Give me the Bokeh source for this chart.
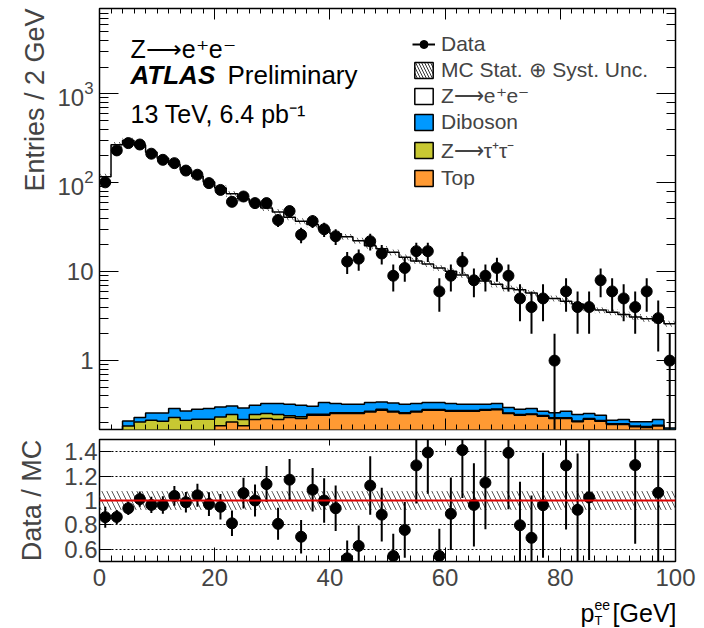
import numpy as np
from bokeh.plotting import figure
from bokeh.layouts import column
from bokeh.models import (ColumnDataSource, Range1d, LinearAxis, LogAxis, LogTicker,
                          FixedTicker, LogTickFormatter, CustomJSTickFormatter, Span,
                          Label, Legend, LegendItem, Title)
from bokeh.embed import file_html
from bokeh.resources import INLINE

# ---------------- data ----------------
bin_width = 2.0
x_min, x_max = 0.0, 100.0

data_counts = [101, 231, 279, 269, 212, 181, 166, 137, 123, 99,
               83, 61, 70, 59, 59, 38, 48, 26, 37, 30,
               25, 13, 14, 22, 16, 9, 11, 17, 17, 6,
               9, 13, 8, 9, 11, 9, 5, 4, 5, 1,
               6, 4, 4, 8, 6, 5, 4, 6, 3, 1]

mc_total = [117, 267, 298, 266, 220, 188, 160, 139, 118, 102,
            87.5, 75, 66, 59, 52, 47, 41, 37, 34, 30,
            26.7, 24.7, 22.3, 19.6, 18.1, 16.5, 14.5, 13.2, 12.2, 11.0,
            10.1, 9.2, 8.3, 7.85, 7.2, 6.47, 6.27, 5.76, 5.2, 5.0,
            4.66, 4.33, 3.9, 3.7, 3.5, 3.3, 3.1, 2.95, 2.82, 2.6]

bkg_top = [0, 0, 0, 0, 0, 0, 0, 0, 0, 0,
           .185, .204, .185, .217, .223, .217, .229, .223, .243, .243,
           .254, .254, .254, .265, .277, .265, .254, .265, .277, .277,
           .269, .269, .269, .277, .281, .254, .243, .247, .237, .223,
           .223, .205, .219, .208, .191, .191, .180, .177, .184, .165]

bkg_ztautau = [0, 0, .184, .204, .213, .208, .229, .213, .219, .219,
               .047, .043, .032, .030, .031, .030, .011, .010, .007, .007,
               .006, .006, .006, .005, .006, .005, .005, .005, .005, .005,
               .005, .005, .005, .005, .005, .004, .004, .004, .004, .004,
               .004, .004, .004, .004, .004, .004, .004, .004, .004, .003]

bkg_diboson = [0, 0, .026, .025, .045, .050, .060, .059, .065, .070,
               .069, .062, .076, .068, .075, .082, .083, .082, .056, .087,
               .069, .063, .063, .067, .060, .063, .064, .059, .055, .055,
               .055, .049, .049, .041, .043, .038, .037, .038, .028, .033,
               .042, .038, .031, .031, .018, .022, .021, .024, .029, .007]

mc_rel_unc = 0.077

x_major_ticks = [0, 20, 40, 60, 80, 100]
ratio_ticks = [0.6, 0.8, 1.0, 1.2, 1.4]
ratio_tick_labels = {0.6: "0.6", 0.8: "0.8", 1.0: "1", 1.2: "1.2", 1.4: "1.4"}

# ---------------- styles ----------------
FONT = "Liberation Sans"
ORANGE = "#ff9a33"
YELLOW = "#c8c832"
BLUE = "#0099ff"
FLOOR = 1e-3
W = 704
ARROW = "\u27f6"

edges = np.arange(x_min, x_max + bin_width / 2, bin_width)
lo, hi = edges[:-1], edges[1:]
centers = 0.5 * (lo + hi)
x_minor = list(edges)

d = np.array(data_counts, float)
mc = np.array(mc_total, float)
top = np.array(bkg_top)
ztt = np.array(bkg_ztautau)
dib = np.array(bkg_diboson)
cum_top = np.maximum(top, FLOOR)
cum_ztt = np.maximum(top + ztt, FLOOR)
cum_dib = np.maximum(top + ztt + dib, FLOOR)


def ext(a):
    return np.append(a, a[-1])


empty_fmt = CustomJSTickFormatter(code="return ''")
xr = Range1d(x_min, x_max)

# ---------------- main panel ----------------
p = figure(width=W, height=434, x_range=xr, y_range=Range1d(0.168, 9100),
           y_axis_type="log", output_backend="svg", toolbar_location=None,
           min_border_left=99, min_border_right=29, min_border_top=8,
           min_border_bottom=5)
p.outline_line_color = "black"
p.outline_line_width = 1.5
p.grid.visible = False

bx = p.below[0]
bx.ticker = FixedTicker(ticks=x_major_ticks, minor_ticks=x_minor)
bx.formatter = empty_fmt
bx.major_label_standoff = 0
bx.major_tick_in, bx.major_tick_out = 11, 0
bx.minor_tick_in, bx.minor_tick_out = 5, 0
bx.axis_line_color = None

ly = p.left[0]
ly.formatter = LogTickFormatter(min_exponent=2)
ly.major_tick_in, ly.major_tick_out = 19, 0
ly.minor_tick_in, ly.minor_tick_out = 9, 0
ly.axis_line_color = None
ly.major_label_text_font = FONT
ly.major_label_text_font_size = "24px"
ly.major_label_standoff = 6

ry = LogAxis(ticker=LogTicker(), formatter=empty_fmt, major_label_standoff=0,
             major_tick_in=19, major_tick_out=0, minor_tick_in=9, minor_tick_out=0,
             axis_line_color=None)
p.add_layout(ry, "right")
tx = LinearAxis(ticker=FixedTicker(ticks=x_major_ticks, minor_ticks=x_minor),
                formatter=empty_fmt, major_label_standoff=0,
                major_tick_in=11, major_tick_out=0, minor_tick_in=5, minor_tick_out=0,
                axis_line_color=None)
p.add_layout(tx, "above")

p.add_layout(Title(text="Entries / 2 GeV", align="right", text_font=FONT,
                   text_font_size="27px", text_font_style="normal"), "left")

# stacked backgrounds
p.varea_step(x=edges, y1=ext(np.full(50, FLOOR)), y2=ext(cum_top), step_mode="after",
             fill_color=ORANGE)
p.varea_step(x=edges, y1=ext(cum_top), y2=ext(cum_ztt), step_mode="after",
             fill_color=YELLOW)
p.varea_step(x=edges, y1=ext(cum_ztt), y2=ext(cum_dib), step_mode="after",
             fill_color=BLUE)

# MC uncertainty band
p.quad(left=lo, right=hi, bottom=mc * (1 - mc_rel_unc), top=mc * (1 + mc_rel_unc),
       fill_color=None, line_color=None, hatch_pattern="\\", hatch_color="#666666",
       hatch_scale=10, hatch_weight=1)

for arr in [cum_top, cum_ztt, cum_dib, mc]:
    p.step(x=edges, y=ext(arr), mode="after", line_color="black", line_width=1.5)

dsrc = ColumnDataSource(dict(x=centers, y=d,
                             lo=np.maximum(d - np.sqrt(d), FLOOR),
                             hi=d + np.sqrt(d)))
seg_r = p.segment(x0="x", y0="lo", x1="x", y1="hi", line_color="black",
                  line_width=2, source=dsrc)
pt_r = p.scatter("x", "y", size=11, color="black", source=dsrc)

# legend-only renderers
nan = [np.nan]
leg_band = p.quad(left=nan, right=nan, bottom=nan, top=nan, fill_color="white",
                  line_color="black", line_width=1.5, hatch_pattern="\\",
                  hatch_color="#333333", hatch_scale=6, hatch_weight=1)
leg_zee = p.quad(left=nan, right=nan, bottom=nan, top=nan, fill_color="white",
                 line_color="black", line_width=1.5)
leg_dib = p.quad(left=nan, right=nan, bottom=nan, top=nan, fill_color=BLUE,
                 line_color="black", line_width=1.5)
leg_ztt = p.quad(left=nan, right=nan, bottom=nan, top=nan, fill_color=YELLOW,
                 line_color="black", line_width=1.5)
leg_top = p.quad(left=nan, right=nan, bottom=nan, top=nan, fill_color=ORANGE,
                 line_color="black", line_width=1.5)

legend = Legend(items=[
    LegendItem(label="Data", renderers=[seg_r, pt_r]),
    LegendItem(label="MC Stat. \u2295 Syst. Unc.", renderers=[leg_band]),
    LegendItem(label="Z" + ARROW + "e\u207ae\u207b", renderers=[leg_zee]),
    LegendItem(label="Diboson", renderers=[leg_dib]),
    LegendItem(label="Z" + ARROW + "\u03c4\u207a\u03c4\u207b", renderers=[leg_ztt]),
    LegendItem(label="Top", renderers=[leg_top]),
], location=(313, 239), glyph_width=23, glyph_height=20, label_standoff=6,
    padding=0, margin=0, spacing=2, border_line_alpha=0, background_fill_alpha=0,
    label_text_font=FONT, label_text_font_size="21px")
p.add_layout(legend)

txt = dict(x_units="screen", y_units="screen", text_font=FONT, text_color="black",
           text_baseline="alphabetic")
p.add_layout(Label(x=31, y=381, text="Z" + ARROW + "e\u207ae\u207b", text_font_size="25px", **txt))
p.add_layout(Label(x=31, y=355, text="ATLAS", text_font_size="26px",
                   text_font_style="bold italic", **txt))
p.add_layout(Label(x=128, y=355, text="Preliminary", text_font_size="26px", **txt))
p.add_layout(Label(x=31, y=316, text="13 TeV, 6.4 pb\u207b\u00b9", text_font_size="25px", **txt))

# ---------------- ratio panel ----------------
r = figure(width=W, height=158, x_range=xr, y_range=Range1d(0.5, 1.5),
           output_backend="svg", toolbar_location=None,
           min_border_left=99, min_border_right=29, min_border_top=5,
           min_border_bottom=31)
r.outline_line_color = "black"
r.outline_line_width = 1.5
r.xgrid.visible = False
r.ygrid.ticker = FixedTicker(ticks=ratio_ticks)
r.ygrid.grid_line_color = "black"
r.ygrid.grid_line_dash = "2 2"
r.ygrid.grid_line_width = 1

rb = r.below[0]
rb.ticker = FixedTicker(ticks=x_major_ticks, minor_ticks=x_minor)
rb.major_tick_in, rb.major_tick_out = 14, 0
rb.minor_tick_in, rb.minor_tick_out = 6, 0
rb.axis_line_color = None
rb.major_label_text_font = FONT
rb.major_label_text_font_size = "24px"
rb.major_label_standoff = 7

rl = r.left[0]
rl.ticker = FixedTicker(ticks=ratio_ticks)
rl.major_label_overrides = ratio_tick_labels
rl.major_tick_in, rl.major_tick_out = 12, 0
rl.minor_tick_in, rl.minor_tick_out = 0, 0
rl.axis_line_color = None
rl.major_label_text_font = FONT
rl.major_label_text_font_size = "24px"
rl.major_label_standoff = 2
rl.axis_label = "Data / MC"
rl.axis_label_text_font = FONT
rl.axis_label_text_font_size = "27px"
rl.axis_label_text_font_style = "normal"
rl.axis_label_standoff = 14

r.add_layout(LinearAxis(ticker=FixedTicker(ticks=ratio_ticks), formatter=empty_fmt,
                        major_label_standoff=0, major_tick_in=12, major_tick_out=0,
                        minor_tick_in=0, minor_tick_out=0, axis_line_color=None), "right")
r.add_layout(LinearAxis(ticker=FixedTicker(ticks=x_major_ticks, minor_ticks=x_minor),
                        formatter=empty_fmt, major_label_standoff=0,
                        major_tick_in=6, major_tick_out=0, minor_tick_in=0,
                        minor_tick_out=0, axis_line_color=None), "above")

r.quad(left=lo, right=hi, bottom=np.full(50, 1 - mc_rel_unc), top=np.full(50, 1 + mc_rel_unc),
       fill_color=None, line_color=None, hatch_pattern="\\", hatch_color="#555555",
       hatch_scale=10, hatch_weight=1)
r.add_layout(Span(location=1.0, dimension="width", line_color="#e00000", line_width=2))

ratio = d / mc
rerr = np.sqrt(d) / mc
mask = (ratio >= 0.5) & (ratio <= 1.5)
rsrc = ColumnDataSource(dict(x=centers[mask], y=ratio[mask],
                             lo=(ratio - rerr)[mask], hi=(ratio + rerr)[mask]))
r.segment(x0="x", y0="lo", x1="x", y1="hi", line_color="black", line_width=2, source=rsrc)
r.scatter("x", "y", size=11, color="black", source=rsrc)

# ---------------- x-axis title strip (frame aligned with the panels above) ----------------
t = figure(width=W, height=36, x_range=Range1d(0, 1), y_range=Range1d(0, 1),
           output_backend="svg", toolbar_location=None,
           x_axis_location=None, y_axis_location=None,
           min_border_left=99, min_border_right=29, min_border_top=0, min_border_bottom=0)
t.outline_line_color = None
t.grid.visible = False
t.add_layout(Label(x=577, y=16, text="[GeV]", text_align="right", text_font_size="25px", **txt))
t.add_layout(Label(x=481, y=16, text="p", text_font_size="25px", **txt))
t.add_layout(Label(x=495, y=24, text="ee", text_font_size="14px", **txt))
t.add_layout(Label(x=495, y=8, text="T", text_font_size="13px", **txt))

layout = column(p, r, t)
open("out.html", "w").write(file_html(layout, INLINE))
